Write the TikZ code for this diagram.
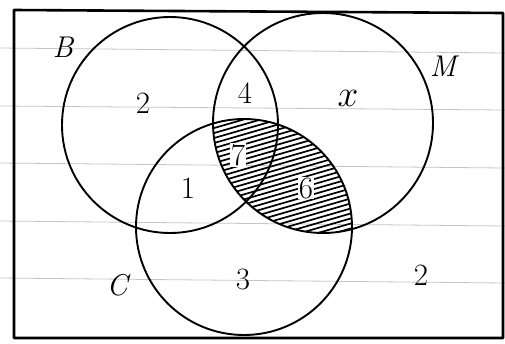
\documentclass[tikz,border=0pt]{standalone}
\begin{document}
\begin{tikzpicture}[x=1pt,y=-1pt,
  ruling/.style={gray!45,line width=0.8pt},
  setcircle/.style={draw,line width=1.9pt},
  lbl/.style={font=\fontsize{30}{32}\selectfont\itshape},
  num/.style={font=\fontsize{31}{33}\selectfont}]
\useasboundingbox (0,0) rectangle (505,343);
\fill[white] (0,0) rectangle (505,343);
% ruled paper
\foreach \a/\b in {48/53,106/110,163/168,221/226,278/283}
  \draw[ruling] (0,\a) -- (505,\b);
% universal set
\coordinate (r1) at (14,10);
\coordinate (r2) at (503,13);
\coordinate (r3) at (503,338);
\coordinate (r4) at (14,338);
\draw[line width=2.6pt,line join=round] (r1) -- (r2) -- (r3) -- (r4) -- cycle;
% hatched region C cap M
\begin{scope}
  \clip (244,227) circle[radius=108];
  \clip (323,123) circle[radius=110];
  \foreach \i in {-60,-55,...,320}
    \draw[line width=1.7pt] (190,\i+20) -- (380,\i-35);
\end{scope}
% circles
\node[setcircle,circle,minimum size=216pt,inner sep=0pt] (B) at (170,125) {};
\node[setcircle,circle,minimum size=220pt,inner sep=0pt] (M) at (323,123) {};
\node[setcircle,circle,minimum size=216pt,inner sep=0pt] (C) at (244,227) {};
% labels
\node[lbl] (lB) at (63,47) {B};
\node[lbl] (lM) at (443,66) {M};
\node[lbl] (lC) at (117,285) {C};
% numbers
\node[num] (n2) at (143,103) {2};
\node[num] (n4) at (245,93) {4};
\node[num,scale=1.5] (nx) at (348,98) {$x$};
\node[fill=white,inner sep=1pt,num] (n7) at (238,155) {7};
\node[num] (n1) at (188,188) {1};
\node[fill=white,inner sep=1pt,num] (n6) at (306,188) {6};
\node[num] (n3) at (243,279) {3};
\node[num] (n2b) at (421,275) {2};
\end{tikzpicture}
\end{document}
